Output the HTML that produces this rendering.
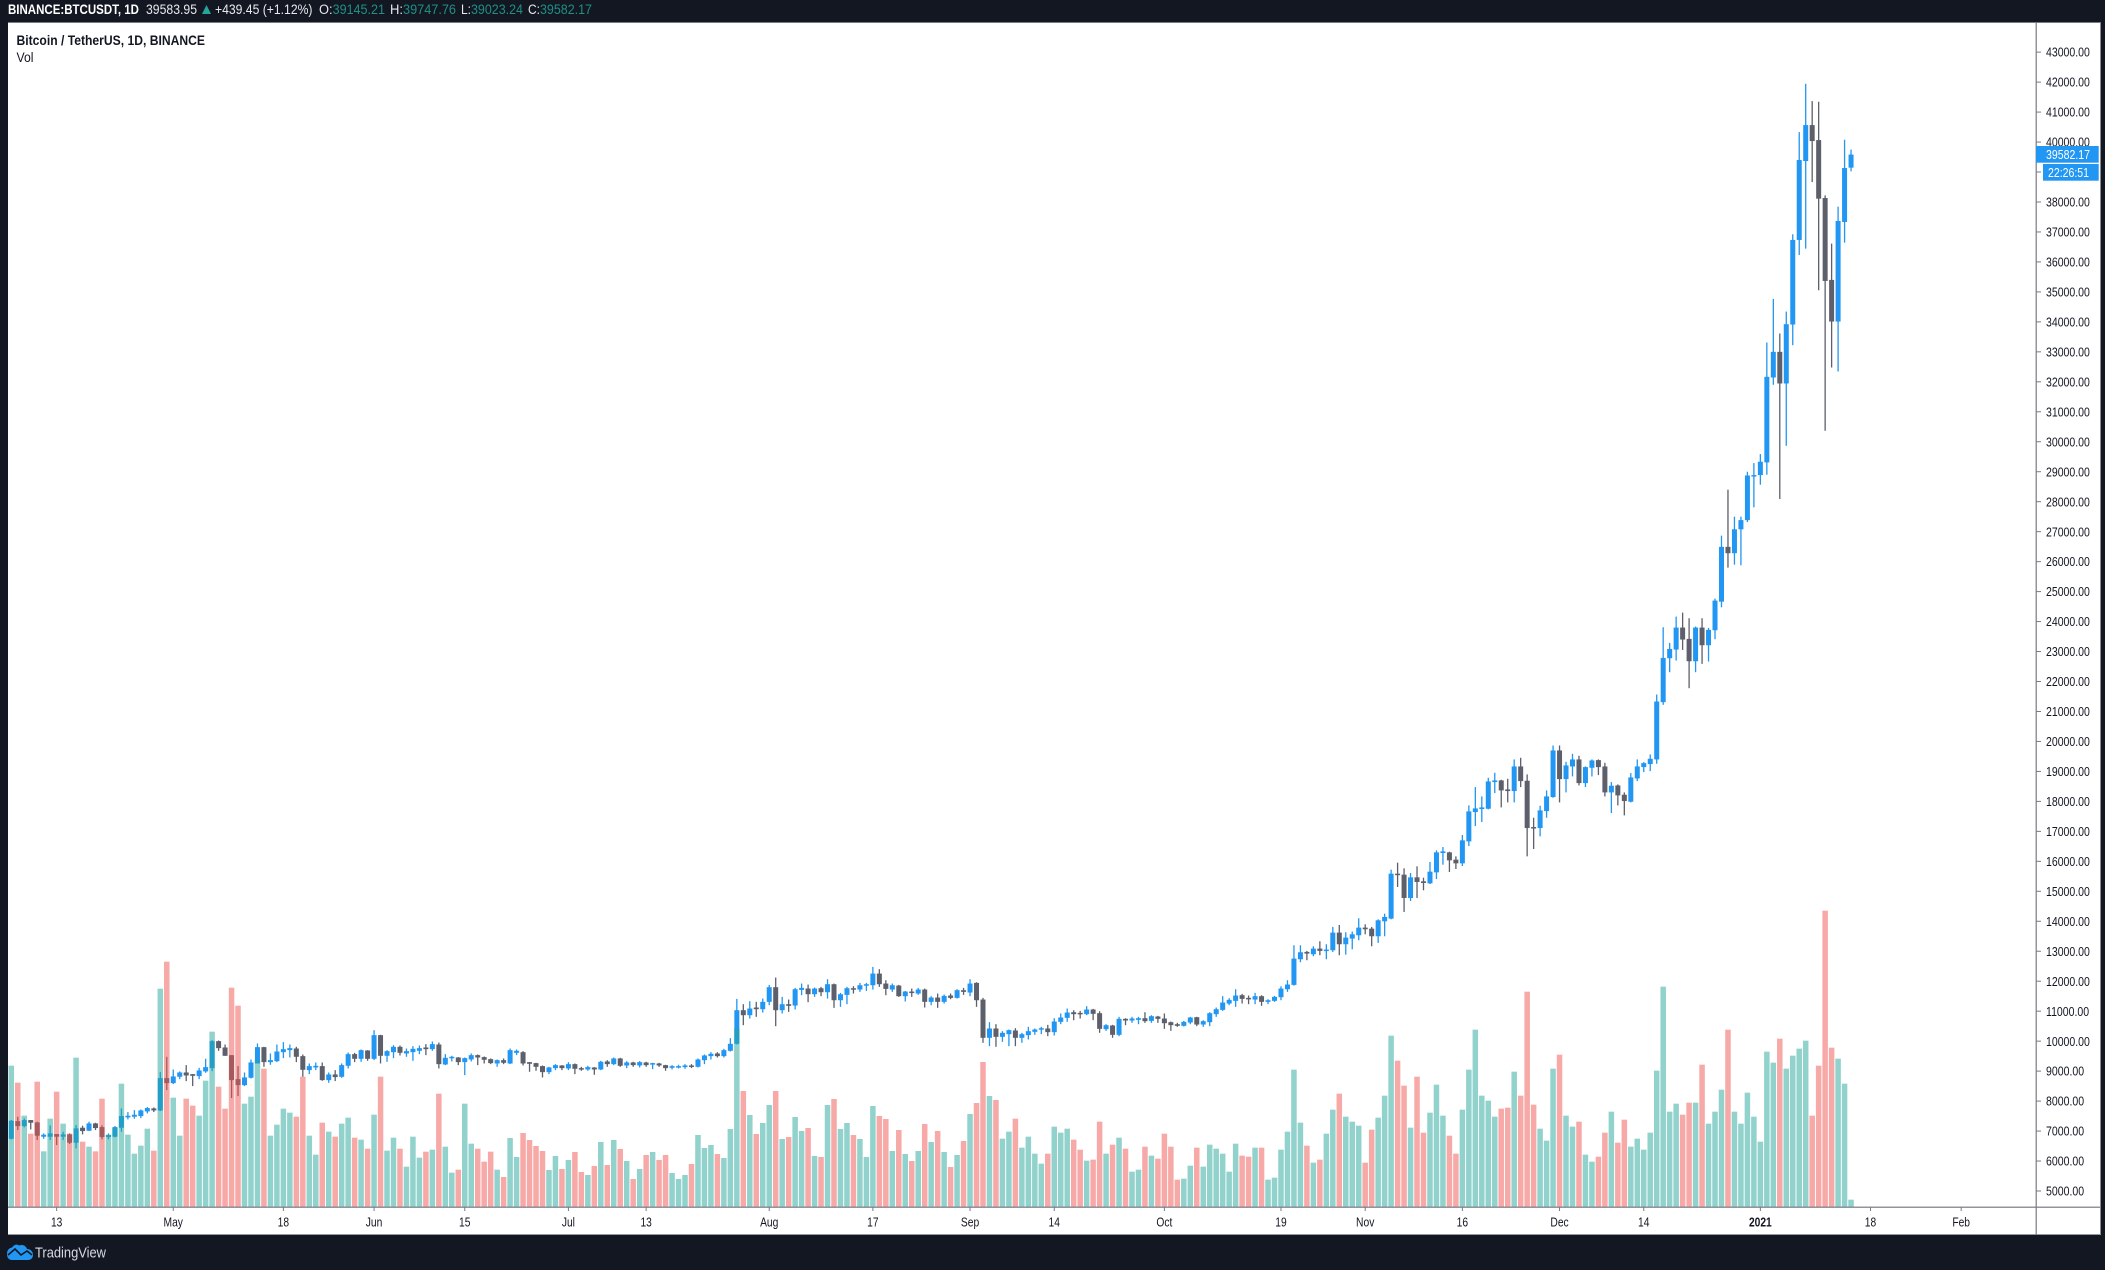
<!DOCTYPE html>
<html lang="en">
<head>
<meta charset="utf-8">
<title>Bitcoin / TetherUS, 1D, BINANCE</title>
<style>
html,body{margin:0;padding:0;width:2105px;height:1270px;overflow:hidden;background:#131722}
svg{display:block;font-family:"Liberation Sans",sans-serif}
</style>
</head>
<body>
<svg id="chart" xmlns="http://www.w3.org/2000/svg" width="2105" height="1270" viewBox="0 0 2105 1270">
  <rect x="0" y="0" width="2105" height="1270" fill="#131722"/>
  <rect x="8" y="23" width="2092.5" height="1211" fill="#ffffff"/>
  <rect x="8" y="22" width="2093" height="1" fill="#787b86"/>
  <rect x="8" y="1234" width="2093" height="1" fill="#9598a1"/>
  <g id="candles"></g>
  <g id="volumes"></g>
  <g id="price-axis"></g>
  <g id="time-axis"></g>
  <rect x="2035.6" y="23" width="1.2" height="1212" fill="#787b86"/>
  <rect x="8" y="1206.6" width="2092" height="1.2" fill="#787b86"/>
  <g>
    <rect x="2036" y="146" width="62.7" height="16.7" fill="#2196f3"/>
    <text x="2046" y="158.8" font-size="13" fill="#ffffff" textLength="44" lengthAdjust="spacingAndGlyphs">39582.17</text>
    <rect x="2043" y="164" width="55.7" height="16.7" fill="#2196f3"/>
    <text x="2048" y="176.8" font-size="13" fill="#ffffff" textLength="41" lengthAdjust="spacingAndGlyphs">22:26:51</text>
  </g>
  <g font-size="13.5">
    <text x="8" y="14" fill="#ffffff" font-weight="bold" textLength="131" lengthAdjust="spacingAndGlyphs">BINANCE:BTCUSDT, 1D</text>
    <text x="146" y="14" fill="#e8e9ed" textLength="51" lengthAdjust="spacingAndGlyphs">39583.95</text>
    <polygon points="202,14 211,14 206.5,5" fill="#26a69a"/>
    <text x="215" y="14" fill="#e8e9ed" textLength="97.5" lengthAdjust="spacingAndGlyphs">+439.45 (+1.12%)</text>
    <text x="319" y="14" fill="#e8e9ed" textLength="13.6" lengthAdjust="spacingAndGlyphs">O:</text>
    <text x="332.6" y="14" fill="#1f8f85" textLength="52.4" lengthAdjust="spacingAndGlyphs">39145.21</text>
    <text x="390" y="14" fill="#e8e9ed" textLength="13" lengthAdjust="spacingAndGlyphs">H:</text>
    <text x="403" y="14" fill="#1f8f85" textLength="53" lengthAdjust="spacingAndGlyphs">39747.76</text>
    <text x="461" y="14" fill="#e8e9ed" textLength="10" lengthAdjust="spacingAndGlyphs">L:</text>
    <text x="471" y="14" fill="#1f8f85" textLength="52" lengthAdjust="spacingAndGlyphs">39023.24</text>
    <text x="528" y="14" fill="#e8e9ed" textLength="12" lengthAdjust="spacingAndGlyphs">C:</text>
    <text x="540" y="14" fill="#1f8f85" textLength="52" lengthAdjust="spacingAndGlyphs">39582.17</text>
  </g>
  <text x="16.5" y="45" font-size="13.5" font-weight="bold" fill="#131722" textLength="188.5" lengthAdjust="spacingAndGlyphs">Bitcoin / TetherUS, 1D, BINANCE</text>
  <text x="16.5" y="62" font-size="13.5" fill="#131722" textLength="17" lengthAdjust="spacingAndGlyphs">Vol</text>
  <g>
    <path d="M7 1254 C7 1249 10 1248 12 1247.5 C14 1244.5 17 1244 19 1245.5 C23 1244 26 1246 27 1249 C31 1249 33 1252 33 1255 C33 1258 31 1260 28 1260 L12 1260 C9 1260 7 1258 7 1254 Z" fill="#2196f3"/>
    <path d="M8 1255 L15 1249 L21 1255 L27 1251 L32 1255" fill="none" stroke="#131722" stroke-width="1.6"/>
    <text x="35" y="1257.5" font-size="15" fill="#d8dae0" textLength="71" lengthAdjust="spacingAndGlyphs">TradingView</text>
  </g>
</svg>
<script>
const opens = [
6744,7330,7167,7367,7289,6811,6811,6900,6811,6889,
6611,7111,7011,7255,7133,6800,6811,7111,7456,7478,
7500,7655,7755,7689,8766,8600,8811,8955,8900,8833,
8989,9100,10000,9789,9533,8733,8533,8778,9255,9800,
9300,9333,9633,9700,9755,9500,9033,9122,9167,8700,
8889,8811,9178,9567,9411,9689,9411,10200,9511,9633,
9811,9589,9633,9678,9789,9733,9889,9222,9433,9456,
9300,9389,9533,9467,9400,9255,9366,9255,9611,9633,
9300,9267,9167,8966,9100,9189,9089,9233,9100,9055,
9122,9055,9322,9233,9422,9189,9289,9189,9289,9222,
9255,9200,9111,9133,9133,9189,9144,9366,9500,9589,
9500,9678,9911,11033,10866,11122,11066,11311,11800,11033,
11233,11189,11711,11755,11566,11766,11633,11900,11366,11544,
11766,11722,11855,11866,12255,11922,11722,11855,11500,11655,
11588,11722,11311,11455,11311,11522,11444,11700,11622,11944,
11388,10111,10422,10144,10233,10356,10111,10200,10311,10389,
10422,10300,10644,10777,10966,10944,10900,11055,10933,10400,
10522,10211,10744,10689,10711,10766,10677,10822,10755,10633,
10566,10511,10622,10800,10555,10633,10900,11044,11255,11344,
11533,11444,11388,11500,11311,11344,11466,11733,11877,12733,
12977,12900,13088,13011,13033,13622,13233,13422,13533,13788,
13755,13500,14000,14088,15588,15555,14777,15466,15333,15266,
15633,16277,16300,16055,15933,16666,17644,17744,17755,18644,
18700,18400,18344,19166,18688,17144,17111,17677,18144,19700,
18744,19166,19400,18611,19122,19377,19166,18300,18533,18222,
17988,18766,19144,19244,19400,21311,22777,23066,23800,23422,
22677,23800,23211,23711,24664,26493,26281,27079,27385,28875,
28888,29311,32144,33000,31944,33911,36733,39366,40566,40066,
38133,35400,34011,37333,39145];
const highs = [
7370,7478,7420,7367,7311,6922,7189,6900,6978,6922,
7200,7178,7311,7278,7189,6922,7167,7755,7633,7700,
7722,7800,7789,8966,9477,9055,8989,9200,8900,9111,
9411,10033,10022,9888,9533,9167,8955,9389,9922,9811,
9589,9889,9966,9889,9811,9555,9255,9289,9289,8955,
9033,9255,9622,9611,9722,9700,10367,10211,9700,9866,
9855,9755,9833,9855,9900,9989,9955,9566,9511,9467,
9455,9589,9555,9489,9422,9389,9422,9755,9722,9667,
9300,9278,9189,9144,9233,9200,9300,9255,9144,9178,
9133,9344,9366,9455,9444,9333,9311,9333,9311,9278,
9278,9211,9200,9211,9233,9233,9422,9555,9633,9633,
9744,10100,11411,11233,11333,11311,11422,11877,12122,11478,
11388,11777,11922,11888,11788,11811,12066,11922,11611,11811,
11833,11944,11944,12477,12400,12033,11922,11877,11677,11755,
11777,11755,11500,11588,11555,11588,11733,11777,12066,11966,
11444,10633,10566,10333,10389,10433,10278,10478,10422,10478,
10544,10766,10922,11088,11033,11011,11166,11077,11000,10566,
10544,10811,10766,10811,10811,10966,10866,10844,10922,10655,
10611,10677,10811,10811,10700,10966,11122,11500,11433,11733,
11577,11522,11611,11533,11400,11511,11833,12033,13200,13200,
13011,13166,13333,13233,13811,13877,13633,13655,14100,13900,
13811,14066,14255,15722,15955,15766,15611,15833,15455,15977,
16366,16477,16322,16166,16877,17866,18477,18166,18788,18955,
18722,18755,19400,19455,18900,17455,17855,18366,19866,19866,
19322,19588,19522,19166,19400,19400,19288,18644,18566,18300,
18944,19400,19311,19566,21566,23811,23288,24166,24300,24111,
23833,24111,23788,24766,26867,28400,27500,27500,29000,29288,
29588,33311,34766,33611,34344,36922,40333,41944,41366,41344,
38222,36611,37844,40077,39747];
const lows = [
6720,7033,7122,7055,6700,6744,6700,6533,6700,6567,
6422,6889,7000,7033,6722,6722,6789,6978,7389,7411,
7433,7589,7633,7667,8367,8567,8733,8667,8500,8733,
8944,9000,9677,9511,8100,8167,8500,8755,9255,9144,
9211,9300,9433,9455,9300,8811,8900,9033,8678,8611,
8667,8778,9089,9300,9311,9344,9367,9255,9311,9433,
9522,9478,9344,9567,9533,9678,9089,9200,9322,9200,
8866,9322,9200,9255,9233,9144,9233,9233,9533,9189,
8978,9011,8789,8900,9033,9033,9033,8900,9011,9011,
8878,9033,9144,9200,9144,9100,9144,9122,9144,9066,
9144,9011,9055,9089,9078,9100,9122,9233,9389,9455,
9455,9655,9889,10533,10755,10811,10955,11200,10500,10922,
10977,11055,11533,11300,11477,11500,11422,11111,11144,11233,
11588,11644,11677,11722,11811,11533,11644,11477,11322,11477,
11544,11122,11200,11111,11255,11400,11422,11544,11500,11144,
9944,9833,9811,9977,9833,9833,9944,10055,10211,10233,
10166,10189,10566,10644,10700,10755,10866,10700,10278,10344,
10111,10166,10533,10611,10566,10611,10611,10611,10411,10344,
10478,10489,10566,10500,10478,10500,10811,11011,11200,11144,
11255,11233,11233,11177,11233,11311,11366,11644,11855,12633,
12700,12833,12866,12733,12977,12866,12888,13066,13366,13566,
13166,13277,13500,14066,15144,14311,14677,14777,15033,15244,
15411,15888,15644,15744,15844,16511,17177,17311,17733,18277,
17800,17966,17966,18477,16166,16411,16833,17455,18122,17966,
18300,18833,18533,18477,18833,18877,18166,17611,17866,17533,
17966,18677,18977,19011,19255,21222,22311,22700,23055,21777,
22311,22588,22666,23411,24477,25800,25900,25880,27320,27811,
28566,28900,31900,28088,29866,33222,36233,36444,38666,35055,
30366,32477,32344,36644,39023];
const closes = [
7344,7165,7367,7278,6844,6878,6922,6811,6889,6611,
7089,7000,7255,7100,6800,6867,7133,7500,7511,7544,
7689,7767,7689,8766,8600,8822,8955,8855,8844,9022,
9133,10000,9767,9511,8700,8533,8789,9289,9800,9300,
9367,9655,9733,9767,9478,9044,9167,9178,8700,8889,
8800,9200,9567,9411,9700,9411,10200,9511,9667,9811,
9611,9667,9744,9767,9733,9900,9233,9444,9478,9300,
9433,9533,9455,9378,9267,9367,9278,9700,9678,9255,
9244,9144,8966,9122,9200,9100,9233,9078,9055,9133,
9055,9311,9233,9422,9178,9289,9200,9300,9200,9267,
9189,9100,9166,9166,9189,9144,9389,9522,9578,9500,
9700,9911,11033,10866,11089,11066,11311,11800,11033,11233,
11178,11733,11777,11566,11755,11633,11900,11366,11566,11766,
11722,11866,11900,12255,11900,11744,11866,11500,11655,11611,
11722,11311,11455,11311,11511,11444,11700,11644,11922,11366,
10111,10422,10144,10278,10367,10111,10233,10333,10389,10433,
10300,10655,10789,10955,10900,10911,11055,10911,10411,10533,
10211,10744,10689,10755,10766,10666,10833,10744,10600,10533,
10511,10644,10789,10555,10666,10933,11066,11288,11377,11522,
11411,11411,11500,11311,11366,11477,11755,11889,12755,12966,
12922,13088,13011,13055,13622,13233,13455,13566,13788,13733,
13500,14033,14144,15588,15544,14777,15466,15311,15277,15655,
16300,16333,16033,15933,16700,17666,17766,17800,18666,18700,
18366,18344,19166,18677,17111,17111,17700,18166,19700,18744,
19200,19400,18611,19144,19366,19144,18300,18522,18200,18011,
18800,19166,19277,19422,21333,22788,23088,23800,23400,22677,
23800,23211,23722,24700,26493,26281,27079,27385,28875,28888,
29333,32166,33000,31944,33922,36733,39400,40566,40033,38111,
35366,34011,37366,39133,39582];
const volumes = [
424,373,274,220,376,167,265,346,250,220,
448,196,181,167,325,217,237,370,217,160,
184,235,169,655,736,328,214,325,304,274,
379,526,361,295,658,604,310,331,442,415,
214,247,295,283,271,391,214,157,253,226,
211,250,268,208,202,175,277,391,169,208,
175,121,211,148,166,172,340,181,103,112,
310,190,175,136,166,112,90,207,150,222,
201,183,168,111,153,114,141,165,105,96,
123,195,126,201,174,138,84,114,156,165,
141,156,102,84,96,129,216,177,186,159,
147,234,536,348,276,219,252,306,348,204,
210,270,228,237,153,150,306,324,234,252,
216,204,150,303,273,264,168,231,159,138,
168,249,195,228,165,120,156,198,279,312,
435,333,321,205,226,265,178,211,160,130,
160,241,223,235,202,172,139,142,256,160,
187,208,175,106,112,181,154,145,220,181,
82,85,124,178,121,187,175,160,106,190,
154,151,178,178,82,88,172,226,412,253,
184,133,142,220,292,340,271,256,244,133,
232,268,334,514,439,364,238,391,223,283,
367,274,214,160,292,412,532,334,319,271,
295,298,406,334,646,307,235,199,415,457,
274,241,256,157,136,151,223,286,193,262,
181,205,172,223,409,661,286,310,277,313,
313,427,250,286,352,532,286,250,343,271,
196,466,433,505,415,454,475,499,274,424,
889,478,445,370,22];
const priceTicks = [5000,6000,7000,8000,9000,10000,11000,12000,13000,14000,15000,16000,17000,18000,19000,20000,21000,22000,23000,24000,25000,26000,27000,28000,29000,30000,31000,32000,33000,34000,35000,36000,37000,38000,39000,40000,41000,42000,43000];
const timeLabels = ["13","May","18","Jun","15","Jul","13","Aug","17","Sep","14","Oct","19","Nov","16","Dec","14","2021","18","Feb"];
const timeBars = [7,25,42,56,70,86,98,117,133,148,161,178,196,209,224,239,252,270,287,301];

const NS = "http://www.w3.org/2000/svg";
function xAt(i){ return 11.3 + 6.478 * i; }
function yAt(p){ return 1191 - (p - 5000) * 0.02997; }
function vAt(v){ return v / 3; }
function make(tag, attrs, parent){
  const el = document.createElementNS(NS, tag);
  for (const k in attrs) el.setAttribute(k, attrs[k]);
  parent.appendChild(el);
  return el;
}
const UP = "#2196f3", DOWN = "#5d606b";
const candleLayer = document.getElementById("candles");
const volumeLayer = document.getElementById("volumes");
const priceLayer = document.getElementById("price-axis");
const timeLayer = document.getElementById("time-axis");

opens.forEach(function(o, i){
  const c = closes[i], up = c >= o, col = up ? UP : DOWN, x = xAt(i);
  const g = make("g", {fill: col}, candleLayer);
  
  
  const wick = make("rect", {x: x - 0.65, y: yAt(highs[i]), width: 1.3, height: Math.max(1, yAt(lows[i]) - yAt(highs[i]))}, g);
  
  
  const top = yAt(Math.max(o, c)), h = Math.max(1.5, Math.abs(yAt(o) - yAt(c)));
  const body = make("rect", {x: x - 2.5, y: top, width: 5, height: h}, g);
  
  
  const vh = vAt(volumes[i]);
  const vol = make("rect", {x: x - 2.75, y: 1207 - vh, width: 5.5, height: vh, fill: up ? "rgba(38,166,154,.5)" : "rgba(239,83,80,.5)"}, volumeLayer);
  
  
});

function squeeze(el, k){
  el.setAttribute("textLength", (el.getComputedTextLength() * k).toFixed(1));
  el.setAttribute("lengthAdjust", "spacingAndGlyphs");
}

priceTicks.forEach(function(p){
  const y = yAt(p);
  const tick = make("rect", {x: 2036, y: y - 0.5, width: 5, height: 1, fill: "#787b86"}, priceLayer);
  
  
  const label = make("text", {x: 2046, y: y + 4.6, "font-size": 13, fill: "#131722"}, priceLayer);
  label.textContent = p.toFixed(2);
  
  
  squeeze(label, 0.81);
});

timeLabels.forEach(function(t, n){
  const x = xAt(timeBars[n]);
  const tick = make("rect", {x: x - 0.5, y: 1207, width: 1, height: 4, fill: "#787b86"}, timeLayer);
  
  
  const label = make("text", {x: x, y: 1226.5, "font-size": 13, fill: "#131722", "text-anchor": "middle", "font-weight": t === "2021" ? "bold" : "normal"}, timeLayer);
  label.textContent = t;
  
  
  squeeze(label, 0.79);
});
</script>
</body>
</html>
